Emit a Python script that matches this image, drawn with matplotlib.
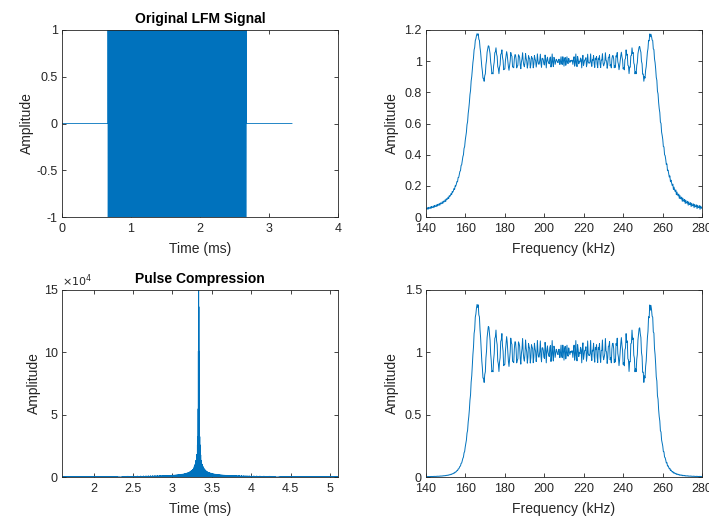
import numpy as np
import matplotlib
matplotlib.use('Agg')
import matplotlib.pyplot as plt
from matplotlib.ticker import FuncFormatter

plt.rcParams['font.family'] = ['Liberation Sans', 'DejaVu Sans']

# LFM pulse settings
fs = 150e6            # sample rate (Hz)
pulse_width = 2e-3    # pulse length (s)
f_low = 160e3         # start frequency (Hz)
f_high = 260e3        # stop frequency (Hz)
pad_time = 2e-3 / 3   # zeros before / after the pulse (s)

# axis settings
time_ticks = [0, 1, 2, 3, 4]
amp_ticks = [-1, -0.5, 0, 0.5, 1]
freq_ticks = [140, 160, 180, 200, 220, 240, 260, 280]
spec_ticks = [0, 0.2, 0.4, 0.6, 0.8, 1, 1.2]
spec2_ticks = [0, 0.5, 1, 1.5]
pc_xticks = [2, 2.5, 3, 3.5, 4, 4.5, 5]
pc_yticks = [0, 5e4, 10e4, 15e4]

blue = '#0072BD'
dark = '#262626'

# build the signal
k = (f_high - f_low) / pulse_width
tp = np.arange(int(round(pulse_width * fs))) / fs
pulse = np.cos(2 * np.pi * (f_low * tp + 0.5 * k * tp ** 2))
n_pad = int(round(pad_time * fs))
sig = np.concatenate([np.zeros(n_pad), pulse, np.zeros(n_pad)])
M = sig.size
t = np.arange(M) / fs

# spectrum, scaled so the in-band level is 1
X = np.fft.rfft(sig)
f = np.fft.rfftfreq(M, 1 / fs)
spec = np.abs(X) / (0.5 * fs / np.sqrt(k))
band = (f > 130e3) & (f < 290e3)

# matched filter output (autocorrelation)
nfft = 1 << int(np.ceil(np.log2(2 * M - 1)))
Xp = np.fft.rfft(sig, nfft)
c = np.fft.irfft(Xp * np.conj(Xp), nfft)
corr = np.concatenate([c[-(M - 1):], c[:M]])
tc = np.arange(2 * M - 1) / fs
keep = (tc > 1.55e-3) & (tc < 5.15e-3)


def g(v, pos=None):
    return '%g' % v


def style(ax):
    for s in ax.spines.values():
        s.set_color(dark)
        s.set_linewidth(0.6)
    ax.tick_params(direction='in', top=True, right=True, length=3,
                   width=0.6, colors=dark, labelsize=9)
    ax.tick_params(axis='x', pad=4)
    ax.tick_params(axis='y', pad=3)
    ax.xaxis.set_major_formatter(FuncFormatter(g))
    ax.yaxis.set_major_formatter(FuncFormatter(g))


fig = plt.figure(figsize=(7.09, 5.20), dpi=100)
w, h = 276 / 709, 187 / 520
ax1 = fig.add_axes([62 / 709, 1 - 217 / 520, w, h])
ax2 = fig.add_axes([426 / 709, 1 - 217 / 520, w, h])
ax3 = fig.add_axes([62 / 709, 1 - 477 / 520, w, h])
ax4 = fig.add_axes([426 / 709, 1 - 477 / 520, w, h])

lab = dict(fontsize=10, color=dark)
tit = dict(fontsize=10, fontweight='bold', pad=5)

ax1.plot(t * 1e3, sig, color=blue, lw=0.6)
ax1.set_xlim(0, 4)
ax1.set_ylim(-1, 1)
ax1.set_xticks(time_ticks)
ax1.set_yticks(amp_ticks)
ax1.set_title('Original LFM Signal', **tit)
ax1.set_xlabel('Time (ms)', labelpad=5, **lab)
ax1.set_ylabel('Amplitude', labelpad=2, **lab)

ax2.plot(f[band] / 1e3, spec[band], color=blue, lw=0.7)
ax2.set_xlim(140, 280)
ax2.set_ylim(0, 1.2)
ax2.set_xticks(freq_ticks)
ax2.set_yticks(spec_ticks)
ax2.set_xlabel('Frequency (kHz)', labelpad=5, **lab)
ax2.set_ylabel('Amplitude', labelpad=4, **lab)

ax3.plot(tc[keep] * 1e3, np.abs(corr[keep]), color=blue, lw=0.6)
ax3.set_xlim(1.6, 5.1)
ax3.set_ylim(0, 15e4)
ax3.set_xticks(pc_xticks)
ax3.set_yticks(pc_yticks)
ax3.set_title('Pulse Compression', **tit)
ax3.set_xlabel('Time (ms)', labelpad=5, **lab)
ax3.set_ylabel('Amplitude', labelpad=2, **lab)

ax4.plot(f[band] / 1e3, spec[band] ** 2, color=blue, lw=0.7)
ax4.set_xlim(140, 280)
ax4.set_ylim(0, 1.5)
ax4.set_xticks(freq_ticks)
ax4.set_yticks(spec2_ticks)
ax4.set_xlabel('Frequency (kHz)', labelpad=5, **lab)
ax4.set_ylabel('Amplitude', labelpad=4, **lab)

for ax in (ax1, ax2, ax3, ax4):
    style(ax)
ax3.yaxis.set_major_formatter(FuncFormatter(lambda v, p: '%g' % (v / 1e4)))
ax3.text(0.0, 1.005, r'$\times10^4$', transform=ax3.transAxes, ha='left',
         va='bottom', fontsize=8, color=dark)

fig.savefig('out.png', dpi=100, facecolor='white')
